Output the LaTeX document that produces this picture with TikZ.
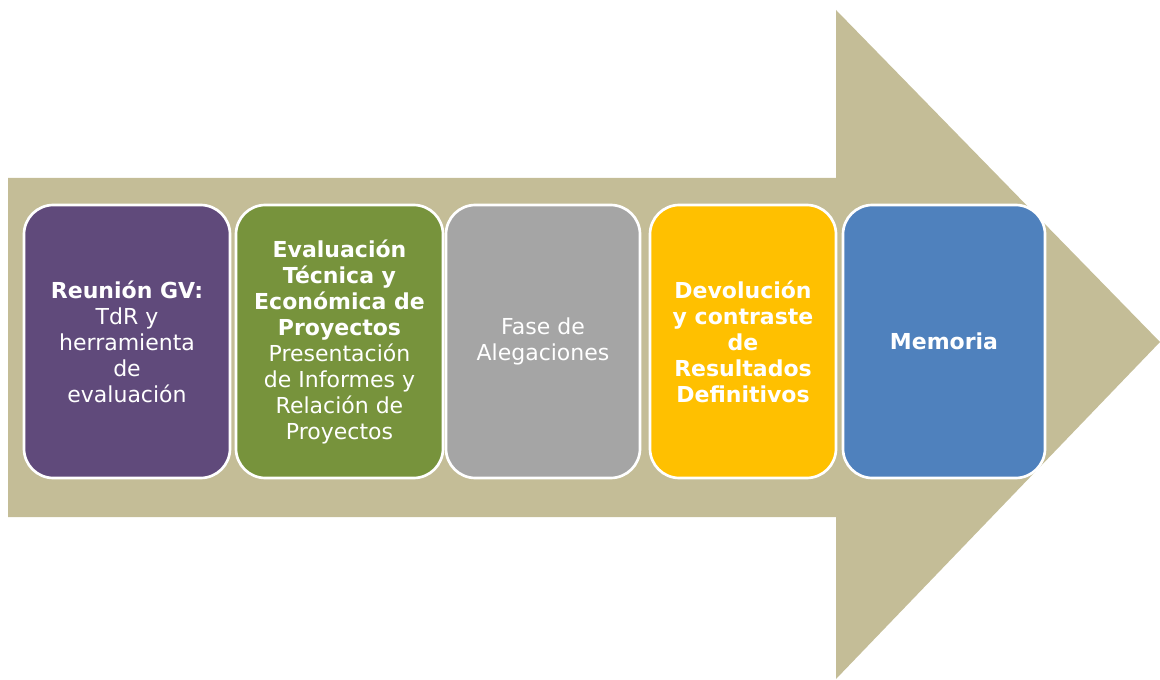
\documentclass[tikz,border=0pt]{standalone}
\usepackage{fontspec}
\setmainfont{DejaVu Sans}
\definecolor{fondo}{HTML}{C4BD97}
\definecolor{morado}{HTML}{604A7B}
\definecolor{verde}{HTML}{77933C}
\definecolor{gris}{HTML}{A5A5A5}
\definecolor{amarillo}{HTML}{FFC000}
\definecolor{azul}{HTML}{4F81BD}
\begin{document}
\begin{tikzpicture}[x=0.75pt,y=0.75pt,
    etapa/.style={draw=white,line width=2pt,rounded corners=22pt,minimum height=204.75pt,
        inner sep=0pt,align=center,text=white,font=\fontsize{16.5}{19.5}\selectfont}]
    \useasboundingbox (0,0) rectangle (1160,679);
    % 绘制箭头
    \fill[fondo] (8,501) -- (836,501) -- (836,669) -- (1160,337) -- (836,0) -- (836,162) -- (8,162) -- cycle;

    % 各阶段
    \node[etapa,fill=morado,minimum width=154.5pt] (reunion) at (127,337.5)
        {\textbf{Reunión GV:}\\TdR y\\herramienta\\de\\evaluación};
    \node[etapa,fill=verde,minimum width=155.25pt] (evaluacion) at (339.5,337.5)
        {\textbf{Evaluación}\\\textbf{Técnica y}\\\textbf{Económica de}\\\textbf{Proyectos}\\Presentación\\de Informes y\\Relación de\\Proyectos};
    \node[etapa,fill=gris,minimum width=145.5pt] (alegaciones) at (543,337.5)
        {Fase de\\Alegaciones};
    \node[etapa,fill=amarillo,minimum width=139.5pt] (devolucion) at (743,337.5)
        {\textbf{Devolución}\\\textbf{y contraste}\\\textbf{de}\\\textbf{Resultados}\\\textbf{Definitivos}};
    \node[etapa,fill=azul,minimum width=151.5pt] (memoria) at (944,337.5)
        {\textbf{Memoria}};
\end{tikzpicture}
\end{document}
